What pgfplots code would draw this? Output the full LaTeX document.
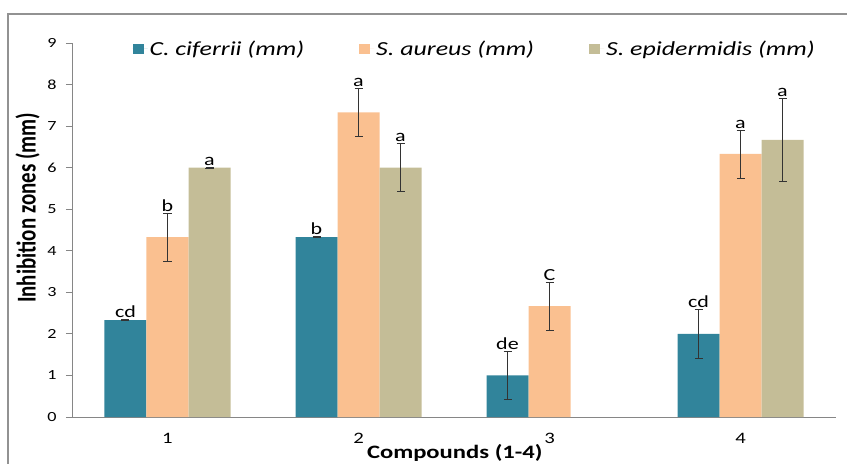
\documentclass[border=0pt]{standalone}
\usepackage{graphicx}
\usepackage{pgfplots}
\pgfplotsset{compat=1.18}
\usepackage{pgfplotstable}
\usepackage{fontspec}
\setmainfont{Carlito}[FakeStretch=1.3]
\newfontfamily\plainfont{Carlito}
\definecolor{cif}{HTML}{31849B}
\definecolor{aur}{HTML}{FAC090}
\definecolor{epi}{HTML}{C4BD97}
\definecolor{axgray}{HTML}{868686}

% x = compound, val = mean zone (mm), err = sd, lab = letter group
\pgfplotstableread{
x val err lab
1 2.33 0.01 cd
2 4.33 0.01 b
3 1.00 0.58 de
4 2.00 0.58 cd
}\cif
\pgfplotstableread{
x val err lab
1 4.33 0.58 b
2 7.33 0.58 a
3 2.67 0.58 C
4 6.33 0.58 a
}\aur
\pgfplotstableread{
x val err lab
1 6.00 0.01 a
2 6.00 0.58 a
4 6.67 1.00 a
}\epi

\pgfplotsset{
  errstyle/.style={
    error bars/y dir=both, error bars/y explicit,
    error bars/error bar style={black!80, line width=0.6bp},
    error bars/error mark options={rotate=90, mark size=4bp, black!80, line width=0.6bp},
  },
}

\begin{document}
\begin{tikzpicture}
  \useasboundingbox (-72bp,-47bp) rectangle (775bp,417bp);
  \clip (-72bp,-47bp) rectangle (775bp,417bp);
  \draw[axgray!90, line width=1.5bp] (-64bp,403bp) rectangle (820bp,-90bp);
  \begin{axis}[
      at={(0,0)}, anchor=south west,
      scale only axis, width=764bp, height=374bp,
      ybar=0pt, bar width=42bp,
      xmin=0.5, xmax=4.5, ymin=0, ymax=9,
      axis lines*=left,
      axis line style={axgray, line width=0.8bp},
      tick style={axgray, line width=0.8bp},
      tick align=outside,
      major tick length=6bp,
      xtick={1,2,3,4},
      major x tick style={draw=none},
      extra x ticks={1.5,2.5,3.5,4.5},
      extra x tick labels={},
      extra x tick style={tick style={axgray}},
      ytick={0,...,9},
      /pgf/number format/assume math mode=true,
      yticklabel style={font=\fontsize{14}{16}\selectfont, xshift=-6bp},
      xticklabel style={font=\fontsize{16}{18}\selectfont, yshift=-7bp},
      ylabel={\plainfont\scalebox{1}[1.3]{Inhibition zones (mm)}},
      ylabel style={at={(axis description cs:-0.058,0.559)}, anchor=center,
        font=\bfseries\fontsize{21}{23}\selectfont},
      xlabel={Compounds (1-4)},
      xlabel style={at={(axis description cs:0.501,-0.112)}, anchor=base,
        font=\bfseries\fontsize{19}{21}\selectfont},
      legend style={at={(0.527,0.984)}, anchor=center, draw=none, fill=none,
        font=\itshape\fontsize{20}{22}\selectfont,
        /tikz/every even column/.append style={column sep=53bp}},
      legend columns=-1,
      legend image code/.code={\fill[#1] (0bp,-5bp) rectangle (11bp,5bp);
        \path (0bp,0bp) -- (15bp,0bp);},
      nodes near coords,
      point meta=explicit symbolic,
      visualization depends on={\thisrow{err}*41.556 \as \eshift},
      every node near coord/.append style={yshift=\eshift bp, black,
        font=\fontsize{17}{19}\selectfont, inner sep=1.5bp},
    ]
    \addplot[fill=cif, draw=none, errstyle] table[x=x, y=val, y error=err, meta=lab] {\cif};
    \addplot[fill=aur, draw=none, errstyle] table[x=x, y=val, y error=err, meta=lab] {\aur};
    \addplot[fill=epi, draw=none, errstyle] table[x=x, y=val, y error=err, meta=lab] {\epi};
    \legend{C. ciferrii (mm), S. aureus (mm), S. epidermidis (mm)}
  \end{axis}
\end{tikzpicture}
\end{document}
